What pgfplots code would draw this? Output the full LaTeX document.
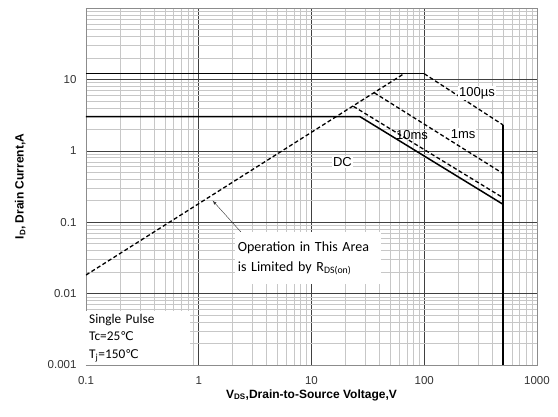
\documentclass[border=0pt]{standalone}
\usepackage{pgfplots}
\pgfplotsset{compat=1.18}
\usepackage{fontspec}
\setmainfont{Liberation Sans}
\newfontfamily\calfont{Carlito}
\newfontfamily\dejavu{DejaVu Sans}
\newcommand{\degC}{{\dejavu\fontsize{12}{12}\selectfont ℃}}
\begin{document}
\begin{tikzpicture}
\path[use as bounding box] (-86pt,-51pt) rectangle (472pt,365pt);
\begin{axis}[
    at={(0,0)}, anchor=south west,
    scale only axis,
    width=451pt, height=357pt,
    xmode=log, ymode=log,
    xmin=0.1, xmax=1000,
    ymin=0.001, ymax=100,
    xtick={0.1,1,10,100,1000},
    xticklabels={0.1,1,10,100,1000},
    ytick={0.001,0.01,0.1,1,10,100},
    yticklabels={0.001,0.01,0.1,1,10,},
    grid=both,
    major grid style={black!75, line width=0.6pt},
    minor grid style={black!22, line width=0.5pt},
    axis line style={black!45},
    major tick length=0pt, minor tick length=0pt,
    /pgf/number format/assume math mode=true,
    ticklabel style={font=\fontsize{11.5}{14}\selectfont, text=black!80},
    xticklabel style={yshift=-8pt},
    yticklabel style={xshift=-6pt},
    xlabel={\textbf{V\textsubscript{DS},Drain-to-Source Voltage,V}},
    ylabel={\textbf{I\textsubscript{D}, Drain Current,A}},
    label style={font=\fontsize{12}{14}\selectfont},
    xlabel style={at={(axis description cs:0.5,-0.084)}, anchor=center},
    ylabel style={at={(axis description cs:-0.146,0.5)}, anchor=center},
    sdash/.style={black, line width=1.3pt, dash pattern=on 4pt off 2.5pt},
]
% 100us limit
\addplot[black, line width=1.5pt] coordinates {(0.1,12) (100,12)};
\addplot[sdash] coordinates {(100,12) (500,2.3)};
% DC
\addplot[black, line width=1.5pt] coordinates {(0.1,3) (27,3) (500,0.178)};
% 10ms
\addplot[sdash] coordinates {(23.5,4.2) (500,0.22)};
% 1ms
\addplot[sdash] coordinates {(36,6.5) (500,0.48)};
% Rds(on) limit
\addplot[sdash] coordinates {(0.1,0.0182) (66,12)};
% Vds limit
\addplot[black, line width=1.7pt] coordinates {(500,2.3) (500,0.001)};

\draw[-latex, black!80, thin] (axis cs:2.55,0.064) -- (axis cs:1.33,0.2);

\node[fill=white, anchor=north west, align=left, inner sep=0pt, inner xsep=3pt,
      minimum width=146pt, minimum height=52pt, text width=140pt,
      font=\calfont\fontsize{14}{20}\selectfont]
  at (axis cs:2.08,0.073) {Operation in This Area\\is Limited by R\textsubscript{DS(on)}};
\node[fill=white, anchor=south west, align=left, inner sep=3pt, text width=98pt,
      font=\calfont\fontsize{13.3}{17.5}\selectfont]
  at (axis cs:0.1,0.001) {Single Pulse\\Tc=25\degC\\T\textsubscript{j}=150\degC};
\node[fill=white, inner sep=1.5pt, font=\fontsize{13}{14}\selectfont] at (axis cs:18.8,0.70) {DC};
\node[fill=white, inner sep=1pt, font=\fontsize{13}{14}\selectfont] at (axis cs:294,6.4) {100µs};
\node[fill=white, inner sep=1pt, font=\fontsize{13}{14}\selectfont] at (axis cs:221,1.72) {1ms};
\node[inner sep=1pt, font=\fontsize{13}{14}\selectfont] at (axis cs:78,1.67) {10ms};
\end{axis}
\end{tikzpicture}
\end{document}
